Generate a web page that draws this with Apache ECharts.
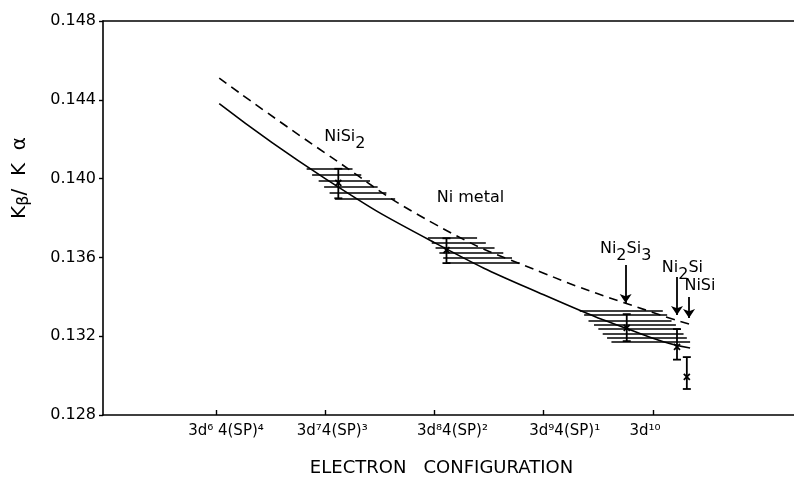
<!DOCTYPE html>
<html>
<head>
<meta charset="utf-8">
<script src="https://cdn.jsdelivr.net/npm/echarts@6/dist/echarts.min.js"></script>
<style>html,body{margin:0;padding:0;background:#fff}#c{width:794px;height:485px}</style>
</head>
<body>
<div id="c"></div>
<script>
// ---- data ----
var xTickValues = [6, 7, 8, 9, 10];
var xTickLabels = ['3d⁶ 4(SP)⁴', '3d⁷4(SP)³', '3d⁸4(SP)²', '3d⁹4(SP)¹', '3d¹⁰'];
var yTicks = [0.128, 0.132, 0.136, 0.140, 0.144, 0.148];

var solidX = [6.03, 7, 8, 9, 10, 10.34];
var solidY = [0.1438, 0.1400, 0.13675, 0.1341, 0.1319, 0.1314];
var dashX  = [6.03, 7, 8, 9, 10, 10.34];
var dashY  = [0.1451, 0.1413, 0.1377, 0.1352, 0.1332, 0.1326];

// hatched bands: [y, xStart, xEnd]
var hatchNiSi2 = [[0.1405, 6.83, 7.25], [0.1402, 6.88, 7.33], [0.1399, 6.94, 7.41], [0.1396, 6.99, 7.48], [0.1393, 7.04, 7.56], [0.1390, 7.09, 7.64]];
var hatchNi = [[0.1370, 7.94, 8.39], [0.13675, 7.975, 8.47], [0.1365, 8.01, 8.55], [0.13625, 8.045, 8.63], [0.1360, 8.08, 8.71], [0.13575, 8.115, 8.78]];
var hatchNi2Si = [[0.1333, 9.33, 10.09], [0.1331, 9.37, 10.13], [0.1328, 9.41, 10.17], [0.1326, 9.46, 10.21], [0.1324, 9.50, 10.25], [0.1321, 9.54, 10.28], [0.1319, 9.58, 10.31], [0.1317, 9.62, 10.34]];

// error bars: [x, low, high, centre]
var errBars = [[7.12, 0.1390, 0.1405, 0.13978], [8.11, 0.13571, 0.13697, 0.13637], [9.76, 0.13175, 0.13312, 0.13242], [10.22, 0.13081, 0.13236, 0.13146], [10.31, 0.12932, 0.13094, 0.12993]];

// arrows: [x, yFrom, yTo]
var arrows = [[9.75, 0.13561, 0.13368], [10.22, 0.13500, 0.13307], [10.33, 0.13399, 0.13292]];

// annotation labels
var labelPos = [[7.18, 0.14195], [8.33, 0.13885], [9.75, 0.13627], [10.27, 0.1353], [10.43, 0.13439]];
var labelText = ['{n|NiSi}{s|2}', '{n|Ni metal}', '{n|Ni}{s|2}{n|Si}{s|3}', '{n|Ni}{s|2}{n|Si}', '{n|NiSi}'];

// ---- chart ----
var FONT = 'DejaVu Sans';
var chart = echarts.init(document.getElementById('c'), null, {renderer: 'canvas'});

function zip(xs, ys) { return xs.map(function (x, i) { return [x, ys[i]]; }); }
function hatchData(arr) { return arr.map(function (h) { return {coords: [[h[1], h[0]], [h[2], h[0]]]}; }); }

var labelPads = [20, 14, 36, 42, 0];
var labelPadsR = [0, 0, 0, 0, 16];

var option = {
  animation: false,
  backgroundColor: '#fff',
  grid: {left: 103, right: 0, top: 21, bottom: 70, containLabel: false},
  xAxis: [{
    type: 'value', min: 4.966, max: 11.291,
    axisLine: {show: true, lineStyle: {color: '#000', width: 1.6}},
    axisTick: {show: true, inside: true, length: 5, customValues: xTickValues, lineStyle: {color: '#000', width: 1.4}},
    axisLabel: {
      show: true, customValues: xTickValues, margin: 9, color: '#000', fontFamily: FONT, fontSize: 15,
      formatter: function (v) {
        var i = xTickValues.indexOf(Math.round(v));
        if (i < 0) return '';
        return '{p' + i + '|}{t|' + xTickLabels[i] + '}{q' + i + '|}';
      },
      rich: (function () {
        var r = {t: {fontFamily: FONT, fontSize: 15, color: '#000'}};
        for (var i = 0; i < 5; i++) { r['p' + i] = {width: labelPads[i]}; r['q' + i] = {width: labelPadsR[i]}; }
        return r;
      })()
    },
    splitLine: {show: false},
    name: 'ELECTRON   CONFIGURATION', nameLocation: 'middle', nameGap: 44,
    nameTextStyle: {fontFamily: FONT, fontSize: 18, color: '#000', padding: [0, 14, 0, 0]}
  }, {
    type: 'value', position: 'top', min: 4.966, max: 11.291,
    axisLine: {show: true, lineStyle: {color: '#000', width: 1.6}},
    axisTick: {show: false}, axisLabel: {show: false}, splitLine: {show: false}
  }],
  yAxis: {
    type: 'value', min: 0.128, max: 0.148, interval: 0.004,
    axisLine: {show: true, lineStyle: {color: '#000', width: 1.6}},
    axisTick: {show: true, inside: false, length: 4, lineStyle: {color: '#000', width: 1.4}},
    axisLabel: {margin: 7, color: '#000', fontFamily: FONT, fontSize: 16, formatter: function (v) { return v.toFixed(3); }},
    splitLine: {show: false}
  },
  graphic: [{
    type: 'text', x: 22, y: 178, rotation: Math.PI / 2,
    style: {
      text: '{n|K}{s|β}{n|/  K  α}', align: 'center', verticalAlign: 'middle',
      rich: {n: {fontFamily: FONT, fontSize: 20, color: '#000', verticalAlign: 'top', lineHeight: 25},
             s: {fontFamily: FONT, fontSize: 16, color: '#000', verticalAlign: 'top', lineHeight: 25, padding: [6, 0, 0, 0]}}
    }
  }],
  series: [
    {type: 'line', data: zip(solidX, solidY), smooth: true, showSymbol: false, symbol: 'none',
     lineStyle: {color: '#000', width: 1.6}},
    {type: 'line', data: zip(dashX, dashY), smooth: true, showSymbol: false, symbol: 'none',
     lineStyle: {color: '#000', width: 1.6, type: [9, 6]}},
    {type: 'lines', coordinateSystem: 'cartesian2d', data: hatchData(hatchNiSi2), lineStyle: {color: '#000', width: 1.5, opacity: 1}},
    {type: 'lines', coordinateSystem: 'cartesian2d', data: hatchData(hatchNi), lineStyle: {color: '#000', width: 1.5, opacity: 1}},
    {type: 'lines', coordinateSystem: 'cartesian2d', data: hatchData(hatchNi2Si), lineStyle: {color: '#000', width: 1.5, opacity: 1}},
    {type: 'lines', coordinateSystem: 'cartesian2d',
     data: arrows.map(function (a) { return {coords: [[a[0], a[1]], [a[0], a[2]]]}; }),
     symbol: ['none', 'arrow'], symbolSize: 9, lineStyle: {color: '#000', width: 1.8, opacity: 1}},
    {type: 'custom', data: errBars,
     renderItem: function (params, api) {
       var x = api.value(0);
       var pLo = api.coord([x, api.value(1)]), pHi = api.coord([x, api.value(2)]), pC = api.coord([x, api.value(3)]);
       var st = {stroke: '#000', lineWidth: 1.8};
       var w = 4, m = 3;
       return {type: 'group', children: [
         {type: 'line', shape: {x1: pLo[0], y1: pLo[1], x2: pHi[0], y2: pHi[1]}, style: st},
         {type: 'line', shape: {x1: pLo[0] - w, y1: pLo[1], x2: pLo[0] + w, y2: pLo[1]}, style: st},
         {type: 'line', shape: {x1: pHi[0] - w, y1: pHi[1], x2: pHi[0] + w, y2: pHi[1]}, style: st},
         {type: 'line', shape: {x1: pC[0] - m, y1: pC[1] - m, x2: pC[0] + m, y2: pC[1] + m}, style: st},
         {type: 'line', shape: {x1: pC[0] - m, y1: pC[1] + m, x2: pC[0] + m, y2: pC[1] - m}, style: st}
       ]};
     }},
    {type: 'scatter', data: labelPos, symbolSize: 0, silent: true, itemStyle: {opacity: 1},
     label: {show: true, position: 'inside', color: '#000', opacity: 1,
       formatter: function (p) { return labelText[p.dataIndex]; },
       rich: {n: {fontFamily: FONT, fontSize: 16, color: '#000', verticalAlign: 'top', lineHeight: 22},
              s: {fontFamily: FONT, fontSize: 16, color: '#000', verticalAlign: 'top', lineHeight: 22, padding: [7, 0, 0, 0]}}}}
  ]
};
chart.setOption(option);
</script>
</body>
</html>
